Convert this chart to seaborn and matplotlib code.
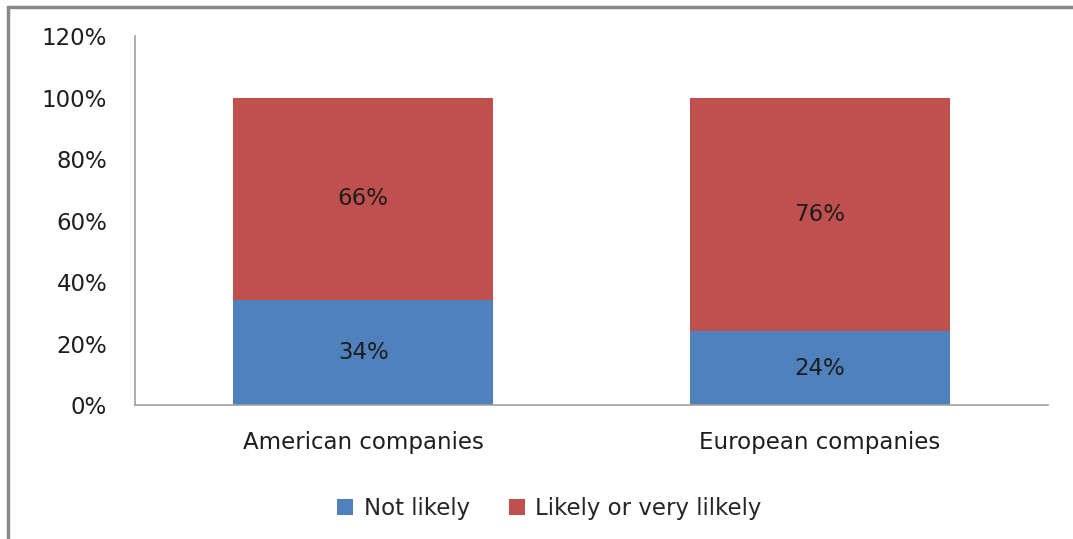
import matplotlib
matplotlib.use('Agg')

import matplotlib.pyplot as plt
import seaborn as sns
import pandas as pd
from matplotlib.patches import Patch, Rectangle

sns.set_theme(style='white')
plt.rcParams['font.family'] = ['DejaVu Sans']

categories = ['American companies', 'European companies']
not_likely = [34, 24]
likely = [66, 76]
series_names = ['Not likely', 'Likely or very lilkely']
colors = ['#4F81BD', '#C0504D']

df = pd.DataFrame({'company': categories, 'not_likely': not_likely, 'likely': likely})
df['total'] = df['not_likely'] + df['likely']

FS = 16.5
TXT = '#1e1e1e'

fig = plt.figure(figsize=(10.73, 5.39), dpi=100)
ax = fig.add_axes([0.1258, 0.2486, 0.8509, 0.6846])

# stacked: draw the total in red, then blue over the bottom part
sns.barplot(data=df, x='company', y='total', color=colors[1], width=0.57,
            saturation=1, linewidth=0, ax=ax)
sns.barplot(data=df, x='company', y='not_likely', color=colors[0], width=0.57,
            saturation=1, linewidth=0, ax=ax)

for i, row in df.iterrows():
    ax.text(i, row['not_likely'] / 2, f"{row['not_likely']}%", ha='center',
            va='center', fontsize=FS, color=TXT)
    ax.text(i, row['not_likely'] + row['likely'] / 2, f"{row['likely']}%",
            ha='center', va='center', fontsize=FS, color=TXT)

ax.set_ylim(0, 120)
ax.set_yticks(range(0, 121, 20))
ax.set_yticklabels([f'{v}%' for v in range(0, 121, 20)], fontsize=FS, color=TXT)
ax.tick_params(axis='x', labelsize=FS, labelcolor=TXT, pad=19, length=0)
ax.tick_params(axis='y', pad=20, length=0)
ax.set_xlabel('')
ax.set_ylabel('')
for s in ['top', 'right']:
    ax.spines[s].set_visible(False)
for s in ['left', 'bottom']:
    ax.spines[s].set_color('#A0A0A0')
    ax.spines[s].set_linewidth(1.2)

handles = [Patch(facecolor=c, edgecolor='none') for c in colors]
fig.legend(handles, series_names, loc='center', bbox_to_anchor=(0.512, 0.057),
           ncol=2, frameon=False, fontsize=FS, handlelength=0.7, handleheight=0.7,
           columnspacing=1.7, handletextpad=0.45)

# outer chart border (cropped on right and bottom)
fig.patches.append(Rectangle((8 / 1073, -0.1), 1.2, 1 - 7 / 539 + 0.1,
                             transform=fig.transFigure, fill=False,
                             edgecolor='#888888', linewidth=2.5))

plt.savefig('out.png', dpi=100)
plt.close()
